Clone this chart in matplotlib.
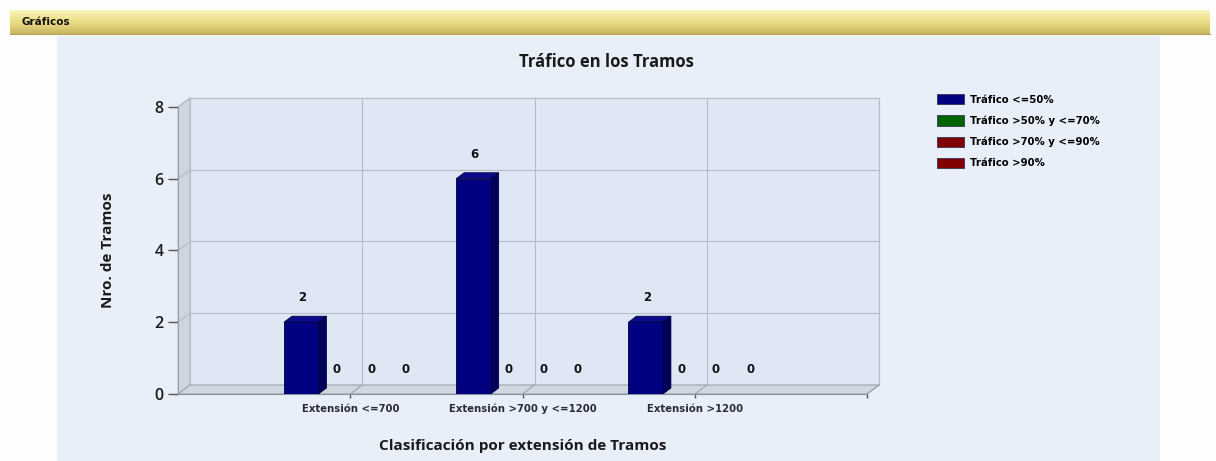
import numpy as np
import matplotlib.pyplot as plt
from matplotlib.patches import Rectangle, Polygon, Patch
from matplotlib.colors import LinearSegmentedColormap

categories = ['Extensión <=700', 'Extensión >700 y <=1200', 'Extensión >1200']
series_names = ['Tráfico <=50%', 'Tráfico >50% y <=70%', 'Tráfico >70% y <=90%', 'Tráfico >90%']
series_colors = ['#000080', '#006400', '#800000', '#800000']
trafico_50 = [2, 6, 2]
trafico_50_70 = [0, 0, 0]
trafico_70_90 = [0, 0, 0]
trafico_90 = [0, 0, 0]
series_values = [trafico_50, trafico_50_70, trafico_70_90, trafico_90]
y_ticks = [0, 2, 4, 6, 8]

plt.rcParams['font.family'] = ['Open Sans', 'DejaVu Sans']
small = ['DejaVu Sans']

W, H = 1216, 461
fig = plt.figure(figsize=(W / 100, H / 100), dpi=100)
fig.patch.set_facecolor('#fdfdfd')

# page background: header bar and light blue chart panel (pixel coords)
bg = fig.add_axes([0, 0, 1, 1])
bg.axis('off')
bg.add_patch(Rectangle((57, 36), 1103, 425, color='#e8eff8', lw=0))
hdr = LinearSegmentedColormap.from_list('hdr', ['#fbf5bd', '#f0e493', '#e2d27a', '#c6b564'])
bg.imshow(np.linspace(0, 1, 60)[:, None], cmap=hdr, extent=(10, 1210, 34, 10), aspect='auto')
bg.plot([10, 1210], [34, 34], color='#b3a458', lw=0.8)
bg.text(22, 22, 'Gráficos', fontsize=7.5, fontweight='bold', family=small, va='center', color='#111111')
bg.set_xlim(0, W)
bg.set_ylim(H, 0)

# plot area (front plane)
px0, px1, py0, py1 = 178, 867, 107, 394
ax = fig.add_axes([px0 / W, 1 - py1 / H, (px1 - px0) / W, (py1 - py0) / H])
ax.set_xlim(0, 4)
ax.set_ylim(0, 8)
ax.patch.set_visible(False)

# depth of the pseudo 3D box and of each bar, converted from pixels to data units
ux = 4 / (px1 - px0)
uy = 8 / (py1 - py0)
DX, DY = 12 * ux, 9 * uy
bdx, bdy = 8 * ux, 6 * uy
grid_c = '#b4bcc8'

ax.add_patch(Rectangle((DX, DY), 4, 8, facecolor='#dee7f3', edgecolor=grid_c, lw=0.8, clip_on=False, zorder=0))
ax.add_patch(Polygon([(0, 0), (DX, DY), (DX, 8 + DY), (0, 8)], closed=True,
                     facecolor='#cdd5df', edgecolor=grid_c, lw=0.8, clip_on=False, zorder=0))
ax.add_patch(Polygon([(0, 0), (4, 0), (4 + DX, DY), (DX, DY)], closed=True,
                     facecolor='#d0d7e0', edgecolor='#9aa3ae', lw=0.8, clip_on=False, zorder=0))
for yv in y_ticks[1:]:
    ax.plot([DX, 4 + DX], [yv + DY, yv + DY], color=grid_c, lw=0.8, clip_on=False, zorder=0.5)
    ax.plot([0, DX], [yv, yv + DY], color=grid_c, lw=0.8, clip_on=False, zorder=0.5)
for xv in [1, 2, 3, 4]:
    ax.plot([xv + DX, xv + DX], [DY, 8 + DY], color=grid_c, lw=0.8, clip_on=False, zorder=0.5)
    ax.plot([xv, xv + DX], [0, DY], color='#9aa3ae', lw=0.8, clip_on=False, zorder=0.5)

x = np.arange(1, len(categories) + 1)
width = 0.2
for i, (vals, col) in enumerate(zip(series_values, series_colors)):
    pos = x + (i - 1.5) * width + 0.015
    ax.bar(pos, vals, width=width, color=col, edgecolor='#000040', lw=0.6, zorder=3)
    for p, v in zip(pos, vals):
        if v > 0:
            l, r = p - width / 2, p + width / 2
            ax.add_patch(Polygon([(r, 0), (r + bdx, bdy), (r + bdx, v + bdy), (r, v)], closed=True,
                                 facecolor='#000058', edgecolor='#000040', lw=0.6, zorder=2.9, clip_on=False))
            ax.add_patch(Polygon([(l, v), (r, v), (r + bdx, v + bdy), (l + bdx, v + bdy)], closed=True,
                                 facecolor='#0a0a8a', edgecolor='#000040', lw=0.6, zorder=2.9, clip_on=False))
        ax.annotate(str(v), (p + bdx * 0.15, v), xytext=(0, 17.5), textcoords='offset points',
                    ha='center', va='center', fontsize=8.5, fontweight='bold', family=small,
                    color='#111111')

# axes, ticks and labels
for side in ['top', 'right']:
    ax.spines[side].set_visible(False)
ax.spines['left'].set_color('#9aa3ae')
ax.spines['bottom'].set_color('#8a939e')
ax.set_yticks(y_ticks)
ax.set_xticks([1, 2, 3, 4], categories + [''])
ax.tick_params(axis='y', length=7.2, width=1, color='#555555', pad=3, labelsize=11.5, labelcolor='#1a1a1a')
ax.tick_params(axis='x', length=3, width=1, color='#555555', pad=4, labelsize=7.3, labelcolor='#2a2a3a')
for t in ax.get_xticklabels():
    t.set_fontweight('bold')
    t.set_family(small)
for t in ax.get_yticklabels():
    t.set_fontweight('semibold')
ax.set_ylabel('Nro. de Tramos', fontsize=11, fontweight='bold', color='#1a1a1a')
ax.yaxis.set_label_coords((115 - px0) / (px1 - px0), (py1 - 250) / (py1 - py0))
ax.set_xlabel('Clasificación por extensión de Tramos', fontsize=11, fontweight='bold', color='#1a1a1a')
ax.xaxis.set_label_coords(0.5, -(439 - py1) / (py1 - py0))

fig.text(606 / W, 1 - 62 / H, 'Tráfico en los Tramos', ha='center', va='center',
         fontsize=12, fontweight='bold', color='#1a1a1a')

handles = [Patch(facecolor=c, edgecolor='#333355', lw=0.6) for c in series_colors]
leg = fig.legend(handles, series_names, loc='upper left', bbox_to_anchor=(937 / W, 1 - 94 / H),
                 frameon=False, borderpad=0, borderaxespad=0, prop={'family': small, 'size': 7.3,
                                                                     'weight': 'bold'},
                 handlelength=2.7, handleheight=1.2, handletextpad=0.6, labelspacing=1.05)

fig.savefig('out.png', dpi=100)
